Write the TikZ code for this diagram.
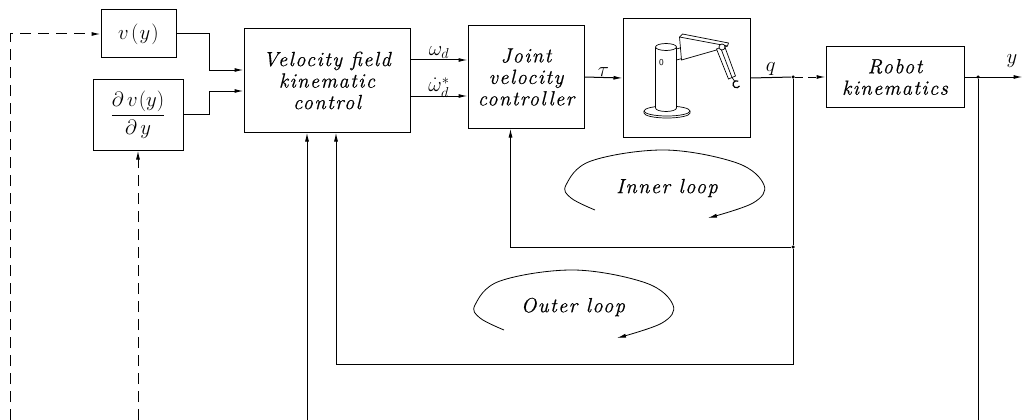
\documentclass[tikz,border=0pt]{standalone}
\usepackage{amsmath}
\usepackage{fontspec}
\usepackage{tikz}
\usetikzlibrary{arrows.meta,calc}
\newfontfamily\blockfont[LetterSpace=7,FakeBold=0.6]{Latin Modern Roman}

\tikzset{
  loopcurve/.pic={
    \draw[line width=0.8pt,-{Latex[length=9pt,width=4pt]}] plot[smooth,tension=0.6] coordinates
      {(-70,25) (-94,13) (-99,0) (-74,-24) (0,-35) (72,-22) (99,0) (88,18) (43,33)};
  }
}

\begin{document}
\begin{tikzpicture}[x=1pt,y=-1pt,line width=1pt,
    block/.style={draw,line width=1pt,inner sep=0pt,align=center,
      font=\blockfont\itshape\fontsize{20.5}{21.5}\selectfont},
    lab/.style={inner sep=1pt,font=\fontsize{20}{22}\selectfont},
    txt/.style={font=\blockfont\itshape\fontsize{20.5}{21.5}\selectfont},
    arr/.style={-{Latex[length=9pt,width=4pt]}},
    dasharr/.style={arr,dash pattern=on 11pt off 7pt},
    junct/.style={circle,fill,inner sep=0pt,minimum size=3.5pt}]
\useasboundingbox (0,0) rectangle (1022,420);

\node[block,minimum width=75pt,minimum height=48pt] (vy) at (138.5,34)
  {\fontsize{22}{24}\selectfont$v\mkern2mu(\mkern1mu y\mkern1mu)$};
\node[block,minimum width=90pt,minimum height=71pt] (dvy) at (138,114.5)
  {\fontsize{21}{24}\selectfont$\dfrac{\partial\, v\mkern1mu(y)}{\partial\, y}$};
\node[block,minimum width=166pt,minimum height=103pt] (vf) at (327,80.5)
  {Velocity field\\kinematic\\control};
\node[block,minimum width=116pt,minimum height=102pt] (jvc) at (526,77)
  {Joint\\velocity\\controller};
\node[block,minimum width=127pt,minimum height=118pt] (robot) at (686.5,78) {};
\node[block,minimum width=138pt,minimum height=60pt] (rk) at (895,77)
  {Robot\\kinematics};

\node[junct] (qd) at (793,77) {};
\node[junct] (fb) at (793,247) {};
\node[junct] (yd) at (978,77) {};
\coordinate (obot) at (793,364);
\coordinate (fbin) at (10,420);
\coordinate (ybot) at (307,420);

% manipulator
\begin{scope}[shift={(robot.center)},line width=0.7pt]
  \draw (-19.5,33) ellipse[x radius=23,y radius=5];
  \draw (-42.5,33) -- (-42.5,35) arc[start angle=180,end angle=0,x radius=23,y radius=5] -- (3.5,33);
  \draw[fill=white] (-31,-31) -- (-31,30) arc[start angle=180,end angle=0,x radius=10.5,y radius=3.5] -- (-10,-31);
  \draw[fill=white] (-20.5,-31) ellipse[x radius=10.5,y radius=3.5];
  \node[font=\sffamily\fontsize{9}{9}\selectfont] (zero) at (-25,-15) {0};
  \draw[fill=white] (-10,-29) -- (0,-32) -- (1,-21) -- (-10,-18) -- cycle;
  \draw[fill=white] (-5,-18) -- (-7,-41) -- (-4,-44) -- (42,-35) -- (41,-32) -- (30,-28) -- cycle;
  \draw (-7,-41) -- (41,-32);
  \draw[fill=white] (30,-29) -- (42,1) -- (49,-2) -- (38,-32) -- cycle;
  \draw (34,-30.5) -- (45.5,-0.5);
  \draw[fill=white] (35.5,-31) circle[radius=3];
  \draw[line width=1.2pt] (53,8) arc[start angle=30,end angle=300,radius=3.5];
  \draw (45.5,-0.5) -- (48,3);
\end{scope}

% forward path
\draw[arr] (vy.east) -- ++(33,0) |- ([yshift=10.5pt]vf.west);
\draw[arr] (dvy.east) -- ++(26,0) |- ([yshift=-10.5pt]vf.west);
\draw[arr] ([yshift=20.5pt]vf.east) coordinate (wd) -- (wd -| jvc.west)
  node[lab,midway,above] {$\omega_d$};
\draw[arr] ([yshift=-15.5pt]vf.east) coordinate (wdd) -- (wdd -| jvc.west)
  node[lab,midway,above=-3pt] {$\dot{\omega}_d^{*}$};
\draw[arr] (jvc.east) -- (robot.west) node[lab,midway,above] {$\tau$};
\draw (robot.east) -- (qd) node[lab,midway,above] {$q$};
\draw[arr,dash pattern=on 8pt off 5pt] (qd) -- (rk.west);
\draw[arr] (rk.east) -- ++(58,0) coordinate (yout);
\node[lab] (ylab) at (1012,61) {$y$};

% loops
\draw (qd) -- (fb);
\draw[arr] (fb) -| ([xshift=-15.5pt]jvc.south);
\draw[arr] (fb) -- (obot) -| ([xshift=9pt]vf.south);
\draw (yd) -- (yd |- fbin);
\draw[arr] (ybot) -- (ybot |- vf.south);
\draw[dasharr] (fbin) |- (vy.west);
\draw[dasharr] (dvy.south |- fbin) -- (dvy.south);

\pic at (665,185) {loopcurve};
\node[txt] (inner) at (667,188) {Inner loop};
\pic at (574,305) {loopcurve};
\node[txt] (outer) at (573,307) {Outer loop};
\end{tikzpicture}
\end{document}
